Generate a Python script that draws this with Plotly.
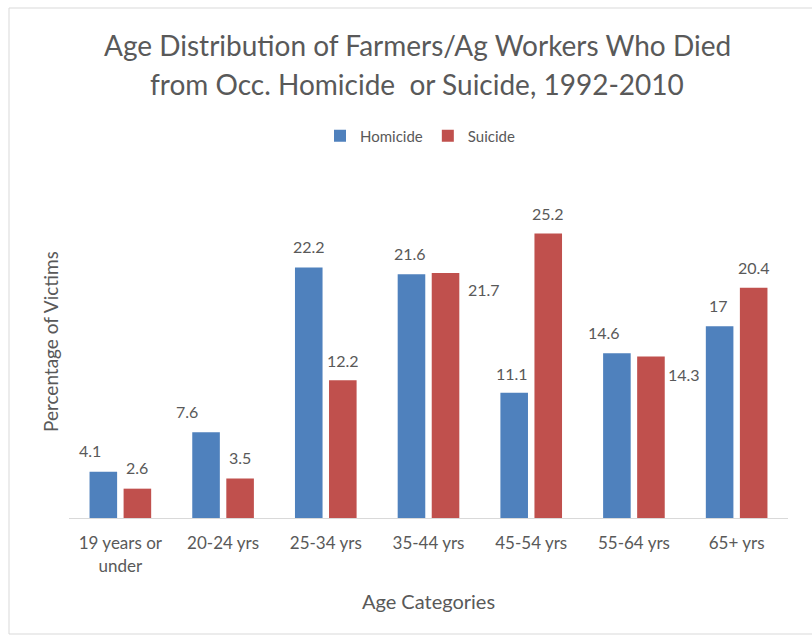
import plotly.graph_objects as go

# Age groups and share of victims (%) for each cause
categories = ["19 years or<br>under", "20-24 yrs", "25-34 yrs", "35-44 yrs",
              "45-54 yrs", "55-64 yrs", "65+ yrs"]
homicide = [4.1, 7.6, 22.2, 21.6, 11.1, 14.6, 17]
suicide = [2.6, 3.5, 12.2, 21.7, 25.2, 14.3, 20.4]

BLUE = "#4F81BD"
RED = "#C0504D"
TEXT = "#595959"
FONT = "Lato"

W, H = 812, 637
L, R, T, B = 69, 24, 202, 119
Y_MAX = 28

fig = go.Figure()
fig.add_trace(go.Bar(name="Homicide", x=categories, y=homicide,
                     marker=dict(color=BLUE, line=dict(width=0))))
fig.add_trace(go.Bar(name="Suicide", x=categories, y=suicide,
                     marker=dict(color=RED, line=dict(width=0))))

# data labels: (dx, dy) nudges in pixels relative to the bar's top-centre
hom_nudge = [(-13, 21), (-19, 21), (0, 21), (-2, 21), (-2, 19), (-13, 21), (-1, 21)]
sui_nudge = [(0, 21), (0, 21), (0, 20), (38, -16), (0, 20), (33, -18), (0, 20)]
half_slot = 17
for vals, nudges, side in ((homicide, hom_nudge, -1), (suicide, sui_nudge, 1)):
    for cat, v, (dx, dy) in zip(categories, vals, nudges):
        fig.add_annotation(x=cat, y=v, xref="x", yref="y", text=f"{v:g}",
                           showarrow=False, xshift=side * half_slot + dx, yshift=dy,
                           font=dict(family=FONT, size=16, color=TEXT))

ph = H - T - B
pw = W - L - R
def px_x(px):
    return (px - L) / pw
def px_y(py):
    return (H - B - py) / ph

# two-line title
for text, yc in (("Age Distribution of Farmers/Ag Workers Who Died", 45),
                 ("from Occ. Homicide  or Suicide, 1992-2010", 84)):
    fig.add_annotation(xref="paper", yref="paper", x=px_x(417), y=px_y(yc),
                       text=text, showarrow=False, xanchor="center", yanchor="middle",
                       font=dict(family=FONT, size=28, color=TEXT))

# vertical axis title
fig.add_annotation(xref="paper", yref="paper", x=px_x(50), y=px_y(342),
                   text="Percentage of Victims", textangle=-90, showarrow=False,
                   xanchor="center", yanchor="middle",
                   font=dict(family=FONT, size=19, color=TEXT))

# light frame around the chart
frame = dict(color="#D9D9D9", width=1)
fig.add_shape(type="line", xref="paper", yref="paper", x0=px_x(9), x1=px_x(812),
              y0=px_y(8), y1=px_y(8), line=frame)
fig.add_shape(type="line", xref="paper", yref="paper", x0=px_x(9), x1=px_x(9),
              y0=px_y(8), y1=px_y(634), line=frame)
fig.add_shape(type="line", xref="paper", yref="paper", x0=px_x(9), x1=px_x(812),
              y0=px_y(634), y1=px_y(634), line=frame)

fig.update_layout(
    width=W, height=H,
    margin=dict(l=L, r=R, t=T, b=B, pad=0),
    paper_bgcolor="white", plot_bgcolor="white",
    barmode="group", bargap=0.337, bargroupgap=0.19,
    font=dict(family=FONT, color=TEXT),
    legend=dict(orientation="h", x=px_x(420), xanchor="center", y=px_y(136), yanchor="middle",
                font=dict(family=FONT, size=15, color=TEXT), itemwidth=30,
                bgcolor="rgba(0,0,0,0)"),
    xaxis=dict(showline=True, linecolor="#D9D9D9", linewidth=1, ticks="",
               tickfont=dict(family=FONT, size=17, color=TEXT), ticklabelstandoff=10,
               title=dict(text="Age Categories", standoff=20,
                          font=dict(family=FONT, size=20, color=TEXT)),
               fixedrange=True),
    yaxis=dict(range=[0, Y_MAX], showgrid=False, zeroline=False, showticklabels=False,
               ticks="", showline=False, fixedrange=True),
)

fig.write_html("out.html")
